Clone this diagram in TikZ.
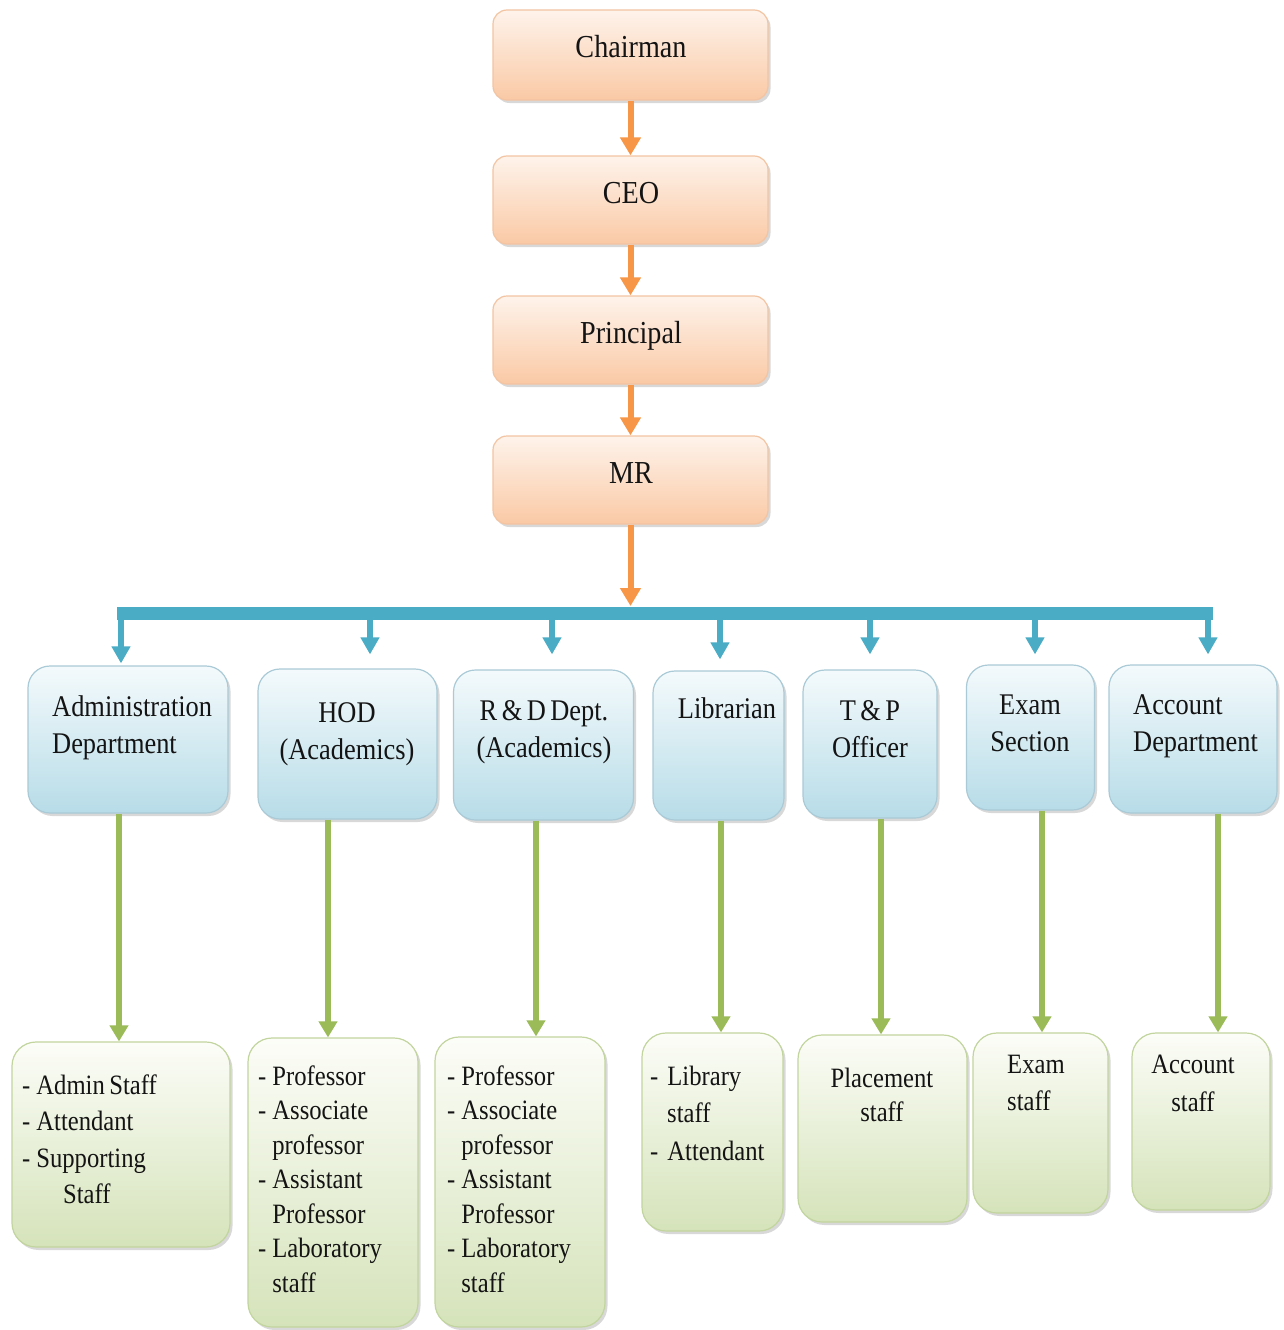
\documentclass[tikz,border=0pt]{standalone}
\usepackage{fontspec}
\setmainfont[FakeStretch=0.88]{Liberation Serif}
\usetikzlibrary{arrows.meta,shadows,calc}
\definecolor{oarr}{HTML}{F79646}
\definecolor{barr}{HTML}{4BACC6}
\definecolor{garr}{HTML}{9BBB59}
\definecolor{otop}{HTML}{FEF3EB}
\definecolor{obot}{HTML}{FAC9A5}
\definecolor{odraw}{HTML}{F3C4A2}
\definecolor{btop}{HTML}{F4FAFC}
\definecolor{bbot}{HTML}{B7DCE8}
\definecolor{bdraw}{HTML}{A9CAD6}
\definecolor{gtop}{HTML}{FCFDF8}
\definecolor{gbot}{HTML}{D5E3BA}
\definecolor{gdraw}{HTML}{C2D59E}
\definecolor{txt}{HTML}{141414}
\newcommand{\ws}{\hspace{4.5pt}}
\newcommand{\dsh}{-\hspace{6pt}}
\newcommand{\cont}{\hspace*{0pt}\phantom{-}\hspace{6pt}}
\begin{document}
\begin{tikzpicture}[x=1pt,y=-1pt,
 box/.style={rectangle, inner sep=0pt, line width=1.2pt,
   drop shadow={shadow xshift=2.5pt, shadow yshift=-3pt, opacity=0.3}},
 obox/.style={box, rounded corners=14pt, draw=odraw, top color=otop, bottom color=obot},
 bbox/.style={box, rounded corners=22pt, draw=bdraw, top color=btop, bottom color=bbot},
 gbox/.style={box, rounded corners=24pt, draw=gdraw, top color=gtop, bottom color=gbot},
 otxt/.style={inner sep=0pt, text=txt, font=\fontsize{32}{38}\selectfont, anchor=base},
 btxt/.style={inner sep=0pt, text=txt, font=\fontsize{30}{37}\selectfont},
 gtxt/.style={inner sep=0pt, text=txt, font=\fontsize{28}{34.5}\selectfont},
 oarrow/.style={draw=oarr, line width=6pt, -{Triangle[width=20pt,length=18pt]}},
 barrow/.style={draw=barr, line width=6pt, -{Triangle[width=18pt,length=17pt]}},
 garrow/.style={draw=garr, line width=5.5pt, -{Triangle[width=18pt,length=16pt]}},
]
\useasboundingbox (0,0) rectangle (1283,1330);
\fill[white] (0,0) rectangle (1283,1330);

% top chain
\node[obox, minimum width=275pt, minimum height=90pt] (ch) at (630.5,55) {};
\node[obox, minimum width=275pt, minimum height=88pt] (ceo) at (630.5,200) {};
\node[obox, minimum width=275pt, minimum height=88pt] (pr) at (630.5,340) {};
\node[obox, minimum width=275pt, minimum height=88pt] (mr) at (630.5,480) {};
\node[otxt] (chT) at (631,58) {Chairman};
\node[otxt] (ceoT) at (631,203) {CEO};
\node[otxt] (prT) at (631,343) {Principal};
\node[otxt] (mrT) at (631,483) {MR};

% second level
\node[bbox, minimum width=200pt, minimum height=147pt] (adm) at (128,739.5) {};
\node[bbox, minimum width=179pt, minimum height=150pt] (hod) at (347.5,744) {};
\node[bbox, minimum width=180pt, minimum height=150pt] (rnd) at (543.5,745) {};
\node[bbox, minimum width=131pt, minimum height=149pt] (lib) at (718.5,745.5) {};
\node[bbox, minimum width=134pt, minimum height=148pt] (tnp) at (870,744) {};
\node[bbox, minimum width=128pt, minimum height=145pt] (exm) at (1030.5,737.5) {};
\node[bbox, minimum width=168pt, minimum height=148pt] (acc) at (1193,739) {};

\node[btxt, anchor=base west, text width=185pt, align=left] (admT) at (52,716) {Administration\\Department};
\node[btxt, anchor=base, text width=170pt, align=center] (hodT) at (347,722) {HOD\\(Academics)};
\node[btxt, anchor=base, text width=170pt, align=center] (rndT) at (544,720) {R\ws\&\ws D\ws Dept.\\(Academics)};
\node[btxt, anchor=base, text width=125pt, align=center] (libT) at (727,718) {Librarian};
\node[btxt, anchor=base, text width=125pt, align=center] (tnpT) at (870,720) {T\ws\&\ws P\\Officer};
\node[btxt, anchor=base, text width=125pt, align=center] (exmT) at (1030,714) {Exam\\Section};
\node[btxt, anchor=base west, text width=150pt, align=left] (accT) at (1133,714) {Account\\Department};

% third level
\node[gbox, minimum width=218pt, minimum height=205pt] (as) at (121,1144.5) {};
\node[gbox, minimum width=170pt, minimum height=289pt] (hs) at (333,1182.5) {};
\node[gbox, minimum width=170pt, minimum height=290pt] (rs) at (520,1182) {};
\node[gbox, minimum width=141pt, minimum height=198pt] (ls) at (712.5,1132) {};
\node[gbox, minimum width=169pt, minimum height=187pt] (ps) at (882.5,1128.5) {};
\node[gbox, minimum width=135pt, minimum height=180pt] (es) at (1040.5,1123) {};
\node[gbox, minimum width=138pt, minimum height=177pt] (cs) at (1201,1121.5) {};

\node[gtxt, font=\fontsize{28}{36.5}\selectfont, anchor=base west, text width=205pt, align=left] (asT) at (22,1094)
  {\dsh Admin\ws Staff\\\dsh Attendant\\\dsh Supporting\\\hspace*{41pt}Staff};
\node[gtxt, anchor=base west, text width=160pt, align=left] (hsT) at (258,1085)
  {\dsh Professor\\\dsh Associate\\\cont professor\\\dsh Assistant\\\cont Professor\\\dsh Laboratory\\\cont staff};
\node[gtxt, anchor=base west, text width=160pt, align=left] (rsT) at (447,1085)
  {\dsh Professor\\\dsh Associate\\\cont professor\\\dsh Assistant\\\cont Professor\\\dsh Laboratory\\\cont staff};
\node[gtxt, font=\fontsize{28}{37.5}\selectfont, anchor=base west, text width=135pt, align=left] (lsT) at (650,1085)
  {-\hspace{9pt}Library\\\hspace*{17pt}staff\\-\hspace{9pt}Attendant};
\node[gtxt, anchor=base, text width=160pt, align=center] (psT) at (882,1087) {Placement\\staff};
\node[gtxt, font=\fontsize{28}{37}\selectfont, anchor=base west, text width=120pt, align=left] (esT) at (1007,1073) {Exam\\staff};
\node[gtxt, font=\fontsize{28}{38}\selectfont, anchor=base, text width=130pt, align=center] (csT) at (1193,1073) {Account\\staff};

% orange arrows
\draw[oarrow] (ch.south) -- (ceo.north);
\draw[oarrow] (ceo.south) -- (pr.north);
\draw[oarrow] (pr.south) -- (mr.north);

% blue bus
\coordinate (busL) at (117,613);
\coordinate (busR) at (1213,613);
\coordinate (busM) at (631,606);
\draw[barr, line width=13pt] (busL) -- (busR);
\draw[oarrow] (mr.south) -- (mr.south |- busM);

\coordinate (bt1) at (121,613);
\coordinate (bt2) at (370,619);
\coordinate (bt3) at (552,619);
\coordinate (bt4) at (720,619);
\coordinate (bt5) at (870,619);
\coordinate (bt6) at (1035,619);
\coordinate (bt7) at (1208,613);
\draw[barrow, shorten >=2pt] (bt1) -- (bt1 |- adm.north);
\draw[barrow, shorten >=14pt] (bt2) -- (bt2 |- hod.north);
\draw[barrow, shorten >=15pt] (bt3) -- (bt3 |- rnd.north);
\draw[barrow, shorten >=11pt] (bt4) -- (bt4 |- lib.north);
\draw[barrow, shorten >=15pt] (bt5) -- (bt5 |- tnp.north);
\draw[barrow, shorten >=10pt] (bt6) -- (bt6 |- exm.north);
\draw[barrow, shorten >=10pt] (bt7) -- (bt7 |- acc.north);

% green arrows
\coordinate (g1) at (119,0);
\coordinate (g2) at (328,0);
\coordinate (g3) at (536,0);
\coordinate (g4) at (721,0);
\coordinate (g5) at (881,0);
\coordinate (g6) at (1042,0);
\coordinate (g7) at (1218,0);
\draw[garrow] (g1 |- adm.south) -- (g1 |- as.north);
\draw[garrow] (g2 |- hod.south) -- (g2 |- hs.north);
\draw[garrow] (g3 |- rnd.south) -- (g3 |- rs.north);
\draw[garrow] (g4 |- lib.south) -- (g4 |- ls.north);
\draw[garrow] (g5 |- tnp.south) -- (g5 |- ps.north);
\draw[garrow] (g6 |- exm.south) -- (g6 |- es.north);
\draw[garrow] (g7 |- acc.south) -- (g7 |- cs.north);
\end{tikzpicture}
\end{document}
